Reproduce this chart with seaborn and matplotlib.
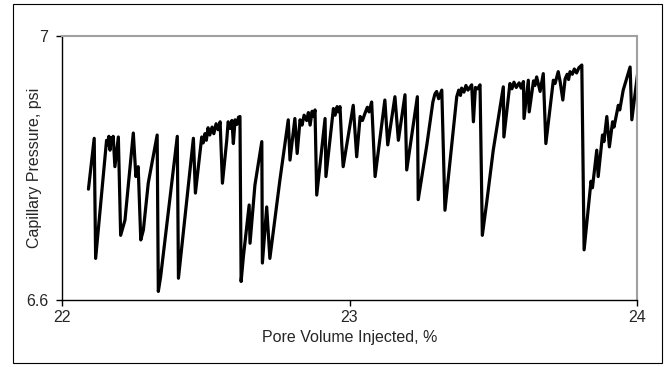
import matplotlib
matplotlib.use("Agg")
import matplotlib.pyplot as plt
import numpy as np
import pandas as pd
import seaborn as sns
from matplotlib.patches import Rectangle

# Pore volume injected (%) and capillary pressure (psi)
pv_injected = [
    22.092, 22.112, 22.117, 22.155, 22.160, 22.163, 22.167, 22.171, 22.175, 22.178,
    22.184, 22.196, 22.204, 22.219, 22.248, 22.257, 22.265, 22.274, 22.283, 22.300,
    22.331, 22.335, 22.343, 22.401, 22.405, 22.457, 22.464, 22.486, 22.491, 22.497,
    22.502, 22.508, 22.514, 22.522, 22.528, 22.536, 22.543, 22.550, 22.558, 22.573,
    22.578, 22.585, 22.591, 22.596, 22.602, 22.608, 22.614, 22.619, 22.623, 22.631,
    22.651, 22.654, 22.671, 22.695, 22.697, 22.712, 22.723, 22.758, 22.787, 22.793,
    22.810, 22.818, 22.828, 22.835, 22.842, 22.851, 22.857, 22.863, 22.870, 22.875,
    22.880, 22.886, 22.915, 22.918, 22.944, 22.950, 22.957, 22.962, 22.967, 22.973,
    22.978, 23.013, 23.025, 23.037, 23.045, 23.054, 23.062, 23.068, 23.077, 23.089,
    23.123, 23.133, 23.158, 23.170, 23.193, 23.199, 23.236, 23.239, 23.269, 23.290,
    23.297, 23.303, 23.310, 23.321, 23.332, 23.373, 23.380, 23.386, 23.390, 23.398,
    23.405, 23.412, 23.425, 23.431, 23.438, 23.446, 23.454, 23.462, 23.477, 23.500,
    23.535, 23.537, 23.558, 23.565, 23.572, 23.580, 23.590, 23.597, 23.605, 23.607,
    23.622, 23.625, 23.640, 23.645, 23.651, 23.663, 23.674, 23.683, 23.709, 23.715,
    23.726, 23.733, 23.742, 23.750, 23.757, 23.762, 23.767, 23.775, 23.782, 23.790,
    23.798, 23.808, 23.816, 23.840, 23.845, 23.860, 23.865, 23.880, 23.885, 23.895,
    23.904, 23.915, 23.920, 23.935, 23.940, 23.952, 23.976, 23.982, 24.005,
]
cap_pressure = [
    6.768, 6.845, 6.663, 6.842, 6.835, 6.848, 6.827, 6.846, 6.838, 6.848,
    6.802, 6.847, 6.698, 6.721, 6.853, 6.787, 6.802, 6.691, 6.706, 6.777,
    6.850, 6.613, 6.635, 6.848, 6.633, 6.845, 6.762, 6.847, 6.838, 6.852,
    6.842, 6.861, 6.850, 6.862, 6.852, 6.867, 6.858, 6.870, 6.777, 6.842,
    6.870, 6.860, 6.872, 6.837, 6.873, 6.866, 6.877, 6.878, 6.628, 6.666,
    6.744, 6.686, 6.774, 6.840, 6.656, 6.741, 6.663, 6.782, 6.873, 6.812,
    6.875, 6.822, 6.873, 6.865, 6.880, 6.872, 6.884, 6.865, 6.886, 6.878,
    6.888, 6.759, 6.875, 6.787, 6.890, 6.880, 6.893, 6.885, 6.893, 6.837,
    6.802, 6.895, 6.817, 6.878, 6.872, 6.883, 6.892, 6.885, 6.900, 6.787,
    6.903, 6.835, 6.908, 6.842, 6.911, 6.797, 6.908, 6.752, 6.835, 6.900,
    6.912, 6.916, 6.905, 6.918, 6.736, 6.908, 6.918, 6.910, 6.921, 6.915,
    6.925, 6.918, 6.926, 6.870, 6.922, 6.920, 6.926, 6.698, 6.747, 6.827,
    6.923, 6.847, 6.928, 6.920, 6.930, 6.922, 6.929, 6.921, 6.931, 6.875,
    6.933, 6.885, 6.932, 6.925, 6.938, 6.916, 6.943, 6.837, 6.933, 6.928,
    6.946, 6.930, 6.903, 6.935, 6.942, 6.934, 6.946, 6.942, 6.950, 6.944,
    6.952, 6.956, 6.676, 6.780, 6.770, 6.827, 6.787, 6.850, 6.840, 6.878,
    6.832, 6.870, 6.862, 6.895, 6.888, 6.918, 6.953, 6.873, 6.953,
]

df = pd.DataFrame({"pv": pv_injected, "pc": cap_pressure})

sns.set_style("white")
plt.rcParams["font.family"] = ["Liberation Sans", "DejaVu Sans"]

fig = plt.figure(figsize=(6.7, 3.67), dpi=100)
ax = fig.add_axes([62 / 670, 67 / 367, 575 / 670, 264 / 367])

sns.lineplot(data=df, x="pv", y="pc", sort=False, color="black", linewidth=2.3, ax=ax)

ax.set_xlim(22, 24)
ax.set_ylim(6.6, 7)
ax.set_xticks([22, 23, 24])
ax.set_xticklabels(["22", "23", "24"])
ax.set_yticks([6.6, 7])
ax.set_yticklabels(["6.6", "7"])
ax.tick_params(axis="both", direction="out", length=4, width=1, color="black",
               labelsize=11.5, bottom=True, left=True, pad=3)
ax.tick_params(axis="y", pad=6)
ax.set_xlabel("Pore Volume Injected, %", fontsize=11.5)
ax.set_ylabel("Capillary Pressure, psi", fontsize=11.5)
ax.xaxis.set_label_coords(0.5, -0.115)
ax.yaxis.set_label_coords(-0.034, 0.5)

for side in ["left", "bottom"]:
    ax.spines[side].set_color("black")
    ax.spines[side].set_linewidth(1)
for side in ["top", "right"]:
    ax.spines[side].set_color("#a0a0a0")
    ax.spines[side].set_linewidth(1.5)

# outer chart border
fig.patches.append(Rectangle((13 / 670, 4 / 367), 649 / 670, 359 / 367,
                             transform=fig.transFigure, fill=False,
                             edgecolor="black", linewidth=0.8))

fig.savefig("out.png", dpi=100)
